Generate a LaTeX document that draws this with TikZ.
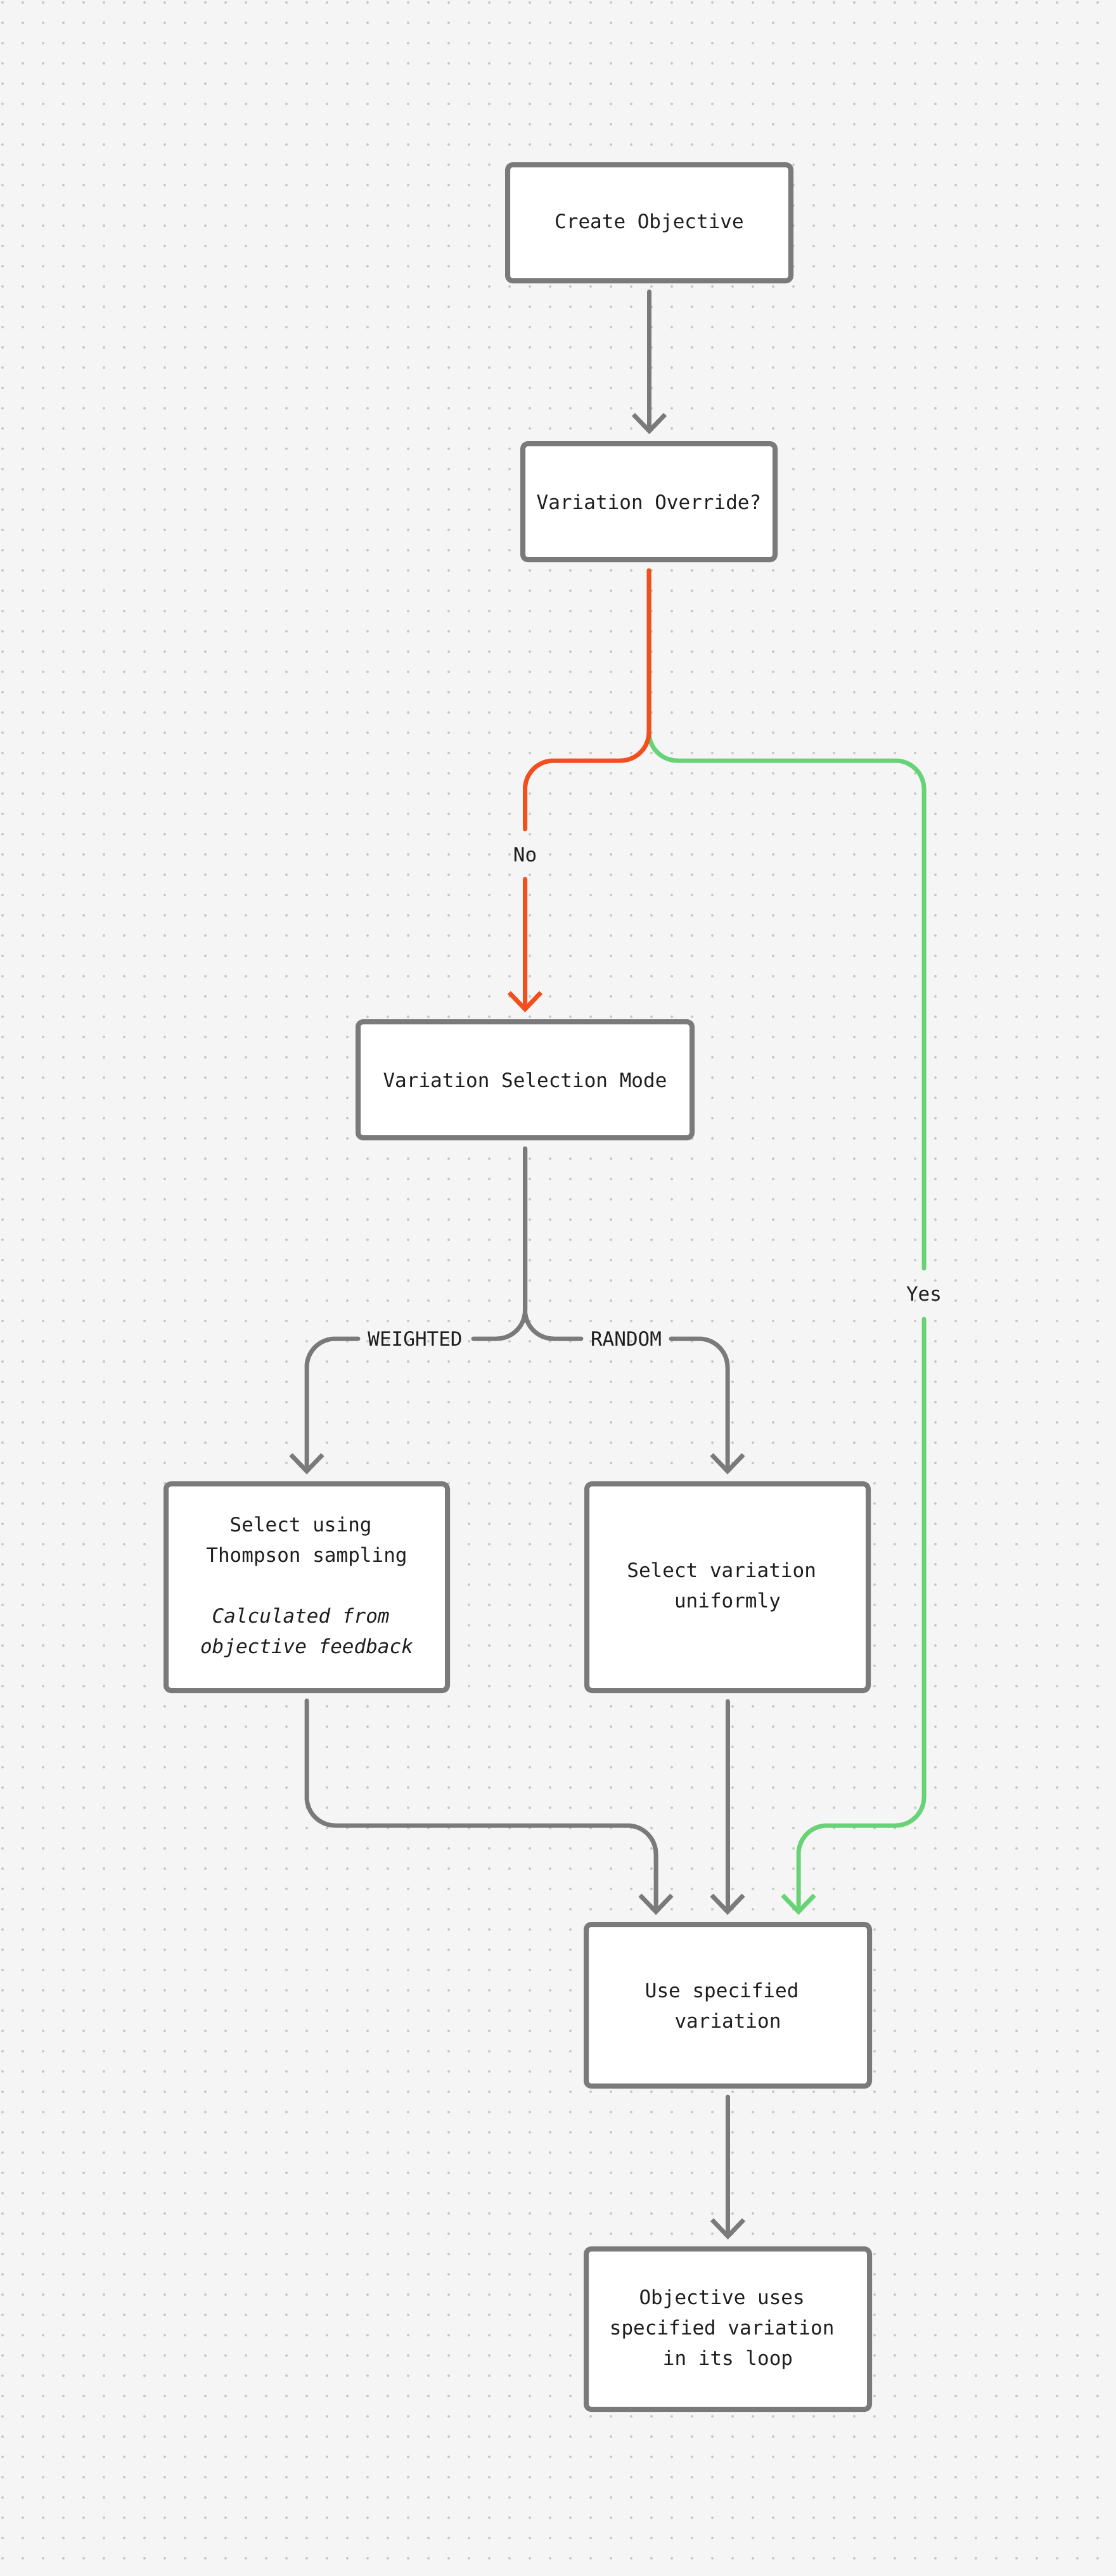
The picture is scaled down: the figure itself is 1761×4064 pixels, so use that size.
\documentclass[tikz,border=0pt]{standalone}
\usepackage{fontspec}
\newfontfamily\dmono{DejaVu Sans Mono}
\usetikzlibrary{arrows.meta,calc}
\definecolor{bgc}{HTML}{F5F5F5}
\definecolor{dotc}{HTML}{C6C6C6}
\definecolor{lineg}{HTML}{7A7A7A}
\definecolor{redl}{HTML}{F24E1E}
\definecolor{greenl}{HTML}{68D376}
\definecolor{txtc}{HTML}{1E1E1E}
\newcommand\trsp{\hphantom{x}}
\tikzset{
  box/.style={draw=lineg, line width=8pt, fill=white, rounded corners=8pt, inner sep=0pt, outer sep=4pt, align=center, text=txtc, font=\dmono\fontsize{31}{48}\selectfont},
  lbl/.style={inner sep=0pt, text=txtc, font=\dmono\fontsize{31}{48}\selectfont},
  conn/.style={draw=lineg, line width=7pt, line cap=round, line join=round, rounded corners=45pt, shorten <=13pt, shorten >=11pt, -{Straight Barb[length=26pt,width=50pt]}},
  brk/.style={shorten <=0pt, shorten >=0pt},
}
\begin{document}
\begin{tikzpicture}[x=1pt,y=-1pt]
\fill[bgc] (0,0) rectangle (1761,4064);
\useasboundingbox (0,0) rectangle (1761,4064);
\foreach \i in {0,...,54}{
  \fill[dotc] \foreach \j in {0,...,126}{ ({4+32*\i},{4+32*\j}) circle[radius=2pt] };
}
% boxes
\node[box, minimum width=447pt, minimum height=183pt] (b1) at (1024.5,351.5) {Create Objective};
\node[box, minimum width=398pt, minimum height=183pt] (b2) at (1024,791.5) {Variation Override?};
\node[box, minimum width=527pt, minimum height=183pt] (b3) at (828.5,1703.5) {Variation Selection Mode};
\node[box, minimum width=444pt, minimum height=326pt] (b4) at (484,2504) {Select using\trsp\\Thompson sampling\\\mbox{}\\\itshape Calculated from\trsp\\\itshape objective feedback};
\node[box, minimum width=444pt, minimum height=326pt] (b5) at (1148,2504) {Select variation\trsp\\uniformly};
\node[box, minimum width=447pt, minimum height=255pt] (b6) at (1148.5,3163.5) {Use specified\trsp\\variation};
\node[box, minimum width=447pt, minimum height=253pt] (b7) at (1148.5,3674.5) {Objective uses\trsp\\specified variation\trsp\\in its loop};
% labels
\node[lbl] (noL) at (828.5,1348) {No};
\node[lbl] (yesL) at (1458,2041) {Yes};
\node[lbl] (wL) at (655,2112) {WEIGHTED};
\node[lbl] (rL) at (988,2112) {RANDOM};
% bend points
\coordinate (s2) at ($(b2.south)+(0,13)$);
\coordinate (s3) at ($(b3.south)+(0,13)$);
\coordinate (s4) at ($(b4.south)+(0,12)$);
\coordinate (sp1) at (1024,1200);
\coordinate (rB) at (828.5,1200);
\coordinate (rE) at ($(b3.north)+(0,-11)$);
\coordinate (gB) at (1458,1200);
\coordinate (gC) at (1458,2880);
\coordinate (gD) at (1260,2880);
\coordinate (gE) at ($(b6.north)+(111.5,-11)$);
\coordinate (sp2) at (828.5,2112);
\coordinate (wB) at (484,2112);
\coordinate (wE) at ($(b4.north)+(0,-11)$);
\coordinate (rdB) at (1148,2112);
\coordinate (rdE) at ($(b5.north)+(0,-11)$);
\coordinate (lC) at (484,2880);
\coordinate (lD) at (1035,2880);
\coordinate (lE) at ($(b6.north)+(-113.5,-11)$);
% connectors
\draw[conn] (b1.south) -- (b1.south |- b2.north);
\draw[conn, brk, draw=greenl] (s2) -- (sp1) -- (gB) -- ($(yesL)+(0,-40)$) ($(yesL)+(0,40)$) -- (gC) -- (gD) -- (gE);
\draw[conn, brk, draw=redl] (s2) -- (sp1) -- (rB) -- ($(noL)+(0,-40)$) ($(noL)+(0,39)$) -- (rE);
\draw[conn, brk] (s3) -- (sp2) -- ($(wL)+(92,0)$) ($(wL)+(-90,0)$) -- (wB) -- (wE);
\draw[conn, brk] (s3) -- (sp2) -- ($(rL)+(-71,0)$) ($(rL)+(71,0)$) -- (rdB) -- (rdE);
\draw[conn, brk] (s4) -- (lC) -- (lD) -- (lE);
\draw[conn] (b5.south) -- (b5.south |- b6.north);
\draw[conn] (b6.south) -- (b6.south |- b7.north);
\end{tikzpicture}
\end{document}
